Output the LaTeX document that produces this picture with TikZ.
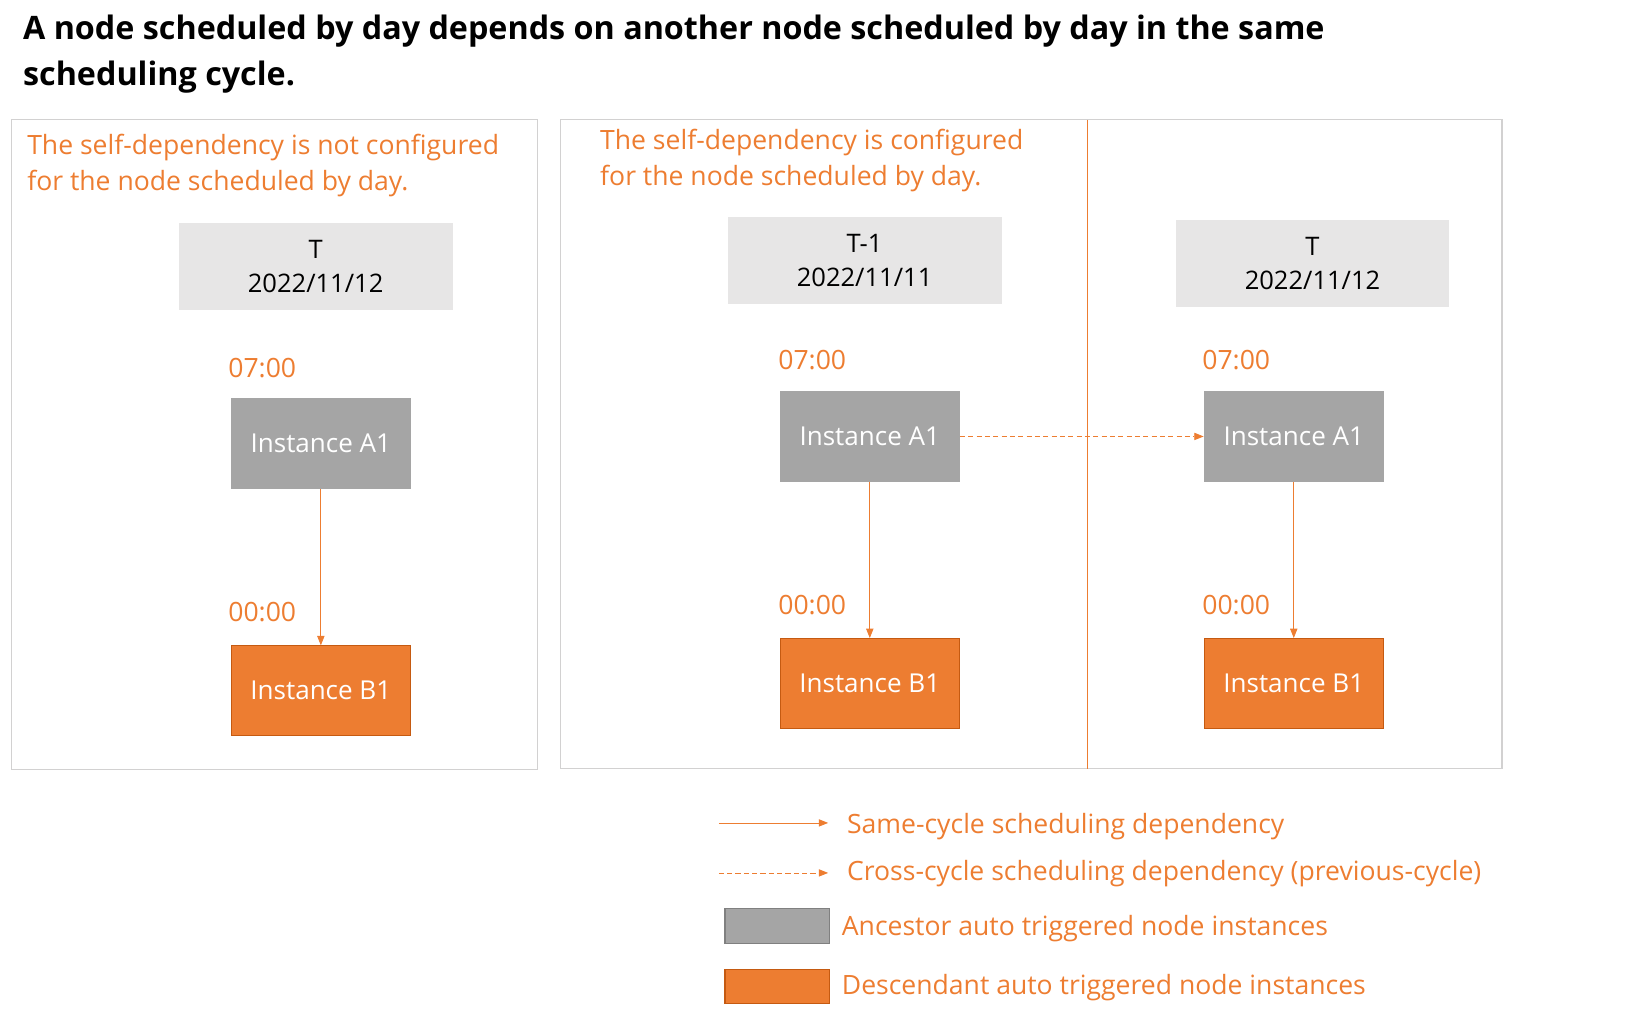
\documentclass[tikz,border=0pt]{standalone}
\usepackage{fontspec}
\setmainfont{Open Sans}
\usetikzlibrary{arrows.meta}
\definecolor{org}{HTML}{ED7D31}
\definecolor{orgd}{HTML}{C55A11}
\definecolor{gr}{HTML}{A5A5A5}
\definecolor{lg}{HTML}{E7E6E6}
\begin{document}
\begin{tikzpicture}[x=1pt,y=-1pt,
 inst/.style={draw=#1,line width=1pt,minimum width=172pt,minimum height=86pt,inner sep=0pt,font=\fontsize{25}{30}\selectfont,text=white},
 date/.style={fill=lg,minimum width=263pt,minimum height=83pt,align=center,font=\fontsize{24.5}{33}\selectfont,inner sep=0pt},
 otxt/.style={text=org,font=\fontsize{25.5}{30}\selectfont,inner sep=0pt},
 frame/.style={draw=lg!80!gray,line width=1.2pt},
 dep/.style={draw=org,line width=0.8pt,-{Triangle[length=9pt,width=7pt]}},
 dsh/.style={dash pattern=on 5pt off 3pt}]
\useasboundingbox (0,0) rectangle (1560,977);
\node[anchor=north west,align=left,font=\bfseries\fontsize{31}{44}\selectfont,inner sep=0pt] (title) at (22,14) {A node scheduled by day depends on another node scheduled by day in the same\\scheduling cycle.};
\draw[frame] (11,115) rectangle (516,739);
\draw[frame] (538,115) rectangle (1442,738);
\draw[org,line width=0.8pt] (1044,115) -- (1044,738);
\node[otxt,anchor=north west,align=left,font=\fontsize{25.5}{34}\selectfont] (n1) at (26,129) {The self-dependency is not configured\\for the node scheduled by day.};
\node[otxt,anchor=north west,align=left,font=\fontsize{25.5}{34}\selectfont] (n2) at (576,124) {The self-dependency is configured\\for the node scheduled by day.};
\node[date] (d1) at (303,256) {T\\2022/11/12};
\node[date] (d2) at (830,250) {T-1\\2022/11/11};
\node[date] (d3) at (1260,253) {T\\2022/11/12};
\node[inst={gr},fill=gr] (a1) at (308,426) {Instance A1};
\node[inst={orgd},fill=org] (b1) at (308,663) {Instance B1};
\node[inst={gr},fill=gr] (a2) at (835,419) {Instance A1};
\node[inst={orgd},fill=org] (b2) at (835,656) {Instance B1};
\node[inst={gr},fill=gr] (a3) at (1242,419) {Instance A1};
\node[inst={orgd},fill=org] (b3) at (1242,656) {Instance B1};
\node[otxt,anchor=west] (t1) at (219,353) {07:00};
\node[otxt,anchor=west] (t2) at (219,588) {00:00};
\node[otxt,anchor=west] (t3) at (747,346) {07:00};
\node[otxt,anchor=west] (t4) at (747,581) {00:00};
\node[otxt,anchor=west] (t5) at (1154,346) {07:00};
\node[otxt,anchor=west] (t6) at (1154,581) {00:00};
\draw[dep] (a1) -- (b1);
\draw[dep] (a2) -- (b2);
\draw[dep] (a3) -- (b3);
\draw[dep,dsh] (a2.east) -- (a3.west);
\coordinate (l1a) at (690,790); \coordinate (l1b) at (795,790);
\coordinate (l2a) at (690,838); \coordinate (l2b) at (795,838);
\draw[dep] (l1a) -- (l1b);
\draw[dep,dsh] (l2a) -- (l2b);
\node[otxt,anchor=west] (lt1) at (813,794) {Same-cycle scheduling dependency};
\node[otxt,anchor=west] (lt2) at (813,839) {Cross-cycle scheduling dependency (previous-cycle)};
\node[draw=gray,line width=1.2pt,fill=gr,minimum width=100pt,minimum height=33pt,inner sep=0pt] (lg1) at (746,889) {};
\node[draw=orgd,line width=1.2pt,fill=org,minimum width=100pt,minimum height=33pt,inner sep=0pt] (lg2) at (746,947) {};
\node[otxt,anchor=west] (lt3) at (808,891) {Ancestor auto triggered node instances};
\node[otxt,anchor=west] (lt4) at (808,948) {Descendant auto triggered node instances};
\end{tikzpicture}
\end{document}
